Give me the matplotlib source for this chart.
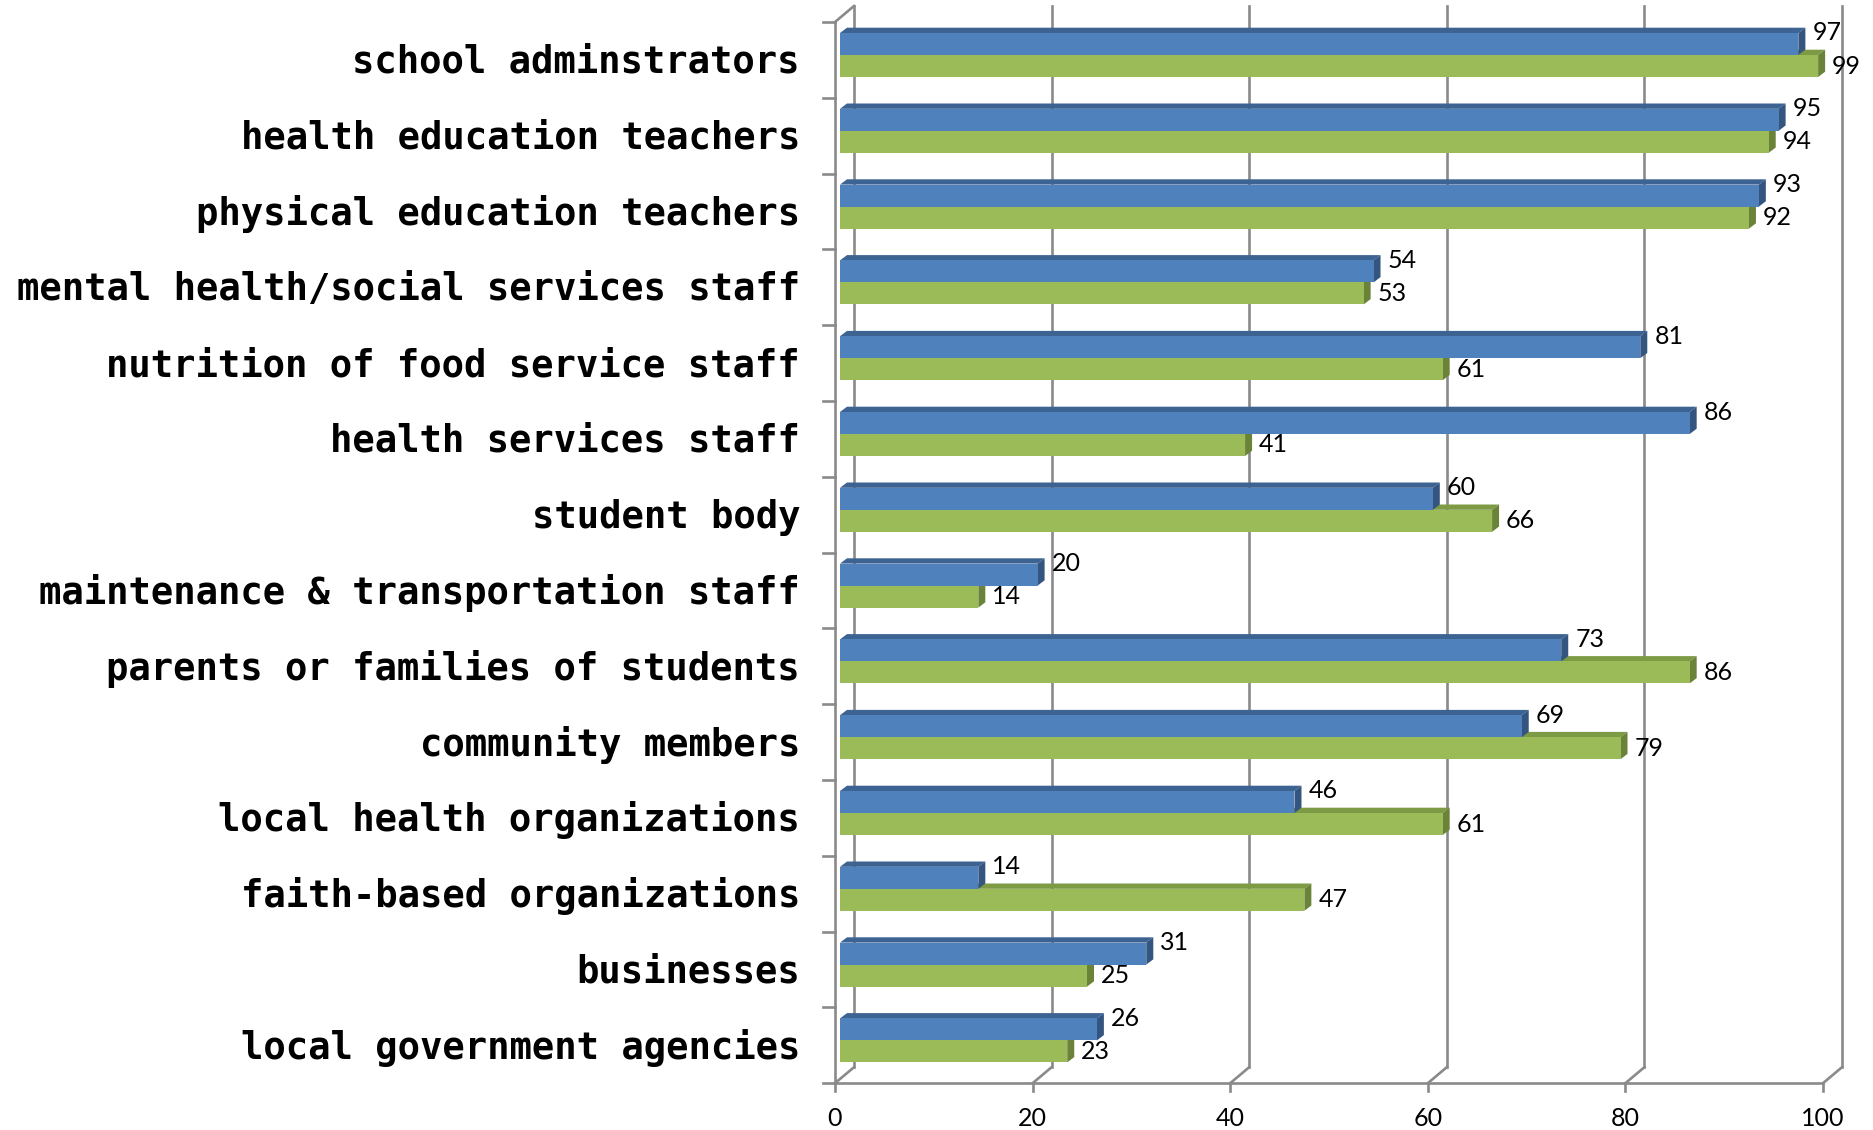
import matplotlib
matplotlib.use("Agg")
import matplotlib.pyplot as plt
from matplotlib.patches import Polygon

# %% data
categories = [
    "school adminstrators",
    "health education teachers",
    "physical education teachers",
    "mental health/social services staff",
    "nutrition of food service staff",
    "health services staff",
    "student body",
    "maintenance & transportation staff",
    "parents or families of students",
    "community members",
    "local health organizations",
    "faith-based organizations",
    "businesses",
    "local government agencies",
]
blue_vals = [97, 95, 93, 54, 81, 86, 60, 20, 73, 69, 46, 14, 31, 26]
green_vals = [99, 94, 92, 53, 61, 41, 66, 14, 86, 79, 61, 47, 25, 23]
xticks = [0, 20, 40, 60, 80, 100]

# %% geometry (pixels of the 1873x1130 canvas)
W, H = 1873, 1130
X0, PX = 835, 9.88     # value 0 on the front plane, px per unit
Y0, PY = 22, 75.8      # top of first category, px per category

wdx, wdy = 19 / PX, -16 / PY     # wall depth
shift = 5 / PX                   # bars sit a little behind the front plane
bdx, bdy = 7 / PX, -5.3 / PY     # bar depth

blue_c = ("#4f81bd", "#3d6393", "#33557f")
green_c = ("#9bbb59", "#7d9a45", "#6a8339")
grid_c = "#8a8a8a"
num_font = dict(family="Lato", fontsize=18, color="black")

fig = plt.figure(figsize=(W / 100, H / 100), dpi=100)
ax = fig.add_axes([0, 0, 1, 1])
ax.set_xlim(-X0 / PX, (W - X0) / PX)
ax.set_ylim((H - Y0) / PY, -Y0 / PY)
ax.axis("off")

n = len(categories)
lw = 1.9

# walls, gridlines and ticks
for k in xticks:
    ax.plot([k + wdx, k + wdx], [wdy, n + wdy], color=grid_c, lw=lw, zorder=1)
    ax.plot([k, k + wdx], [n, n + wdy], color=grid_c, lw=lw, zorder=1)
    ax.plot([k, k], [n, n + 8 / PY], color=grid_c, lw=lw, zorder=1)
    ax.text(k, (1118 - Y0) / PY, str(k), ha="center", va="center", **num_font)
ax.plot([0, 100], [n, n], color=grid_c, lw=lw, zorder=1)
ax.plot([0, 0], [0, n], color=grid_c, lw=lw, zorder=1)
ax.plot([0, wdx], [0, wdy], color=grid_c, lw=lw, zorder=1)
for k in range(n + 1):
    ax.plot([-12 / PX, 0], [k, k], color=grid_c, lw=lw, zorder=1)


def bar3d(v, y_top, y_bot, colors):
    face, top, side = colors
    x0, x1 = shift, shift + v
    ax.add_patch(Polygon([(x0, y_top), (x0 + bdx, y_top + bdy),
                          (x1 + bdx, y_top + bdy), (x1, y_top)],
                         closed=True, fc=top, ec="none", zorder=3))
    ax.add_patch(Polygon([(x1, y_top), (x1 + bdx, y_top + bdy),
                          (x1 + bdx, y_bot + bdy), (x1, y_bot)],
                         closed=True, fc=side, ec="none", zorder=3))
    ax.add_patch(Polygon([(x0, y_top), (x1, y_top), (x1, y_bot), (x0, y_bot)],
                         closed=True, fc=face, ec="none", zorder=3))


for i, (name, b, g) in enumerate(zip(categories, blue_vals, green_vals)):
    b_top, b_bot = i + 11 / PY, i + 33 / PY
    g_top, g_bot = i + 33 / PY, i + 55 / PY
    bar3d(g, g_top, g_bot, green_c)
    bar3d(b, b_top, b_bot, blue_c)
    ax.text(shift + b + 14 / PX, (b_top + b_bot) / 2 - 11 / PY, str(b),
            ha="left", va="center", zorder=4, **num_font)
    ax.text(shift + g + 14 / PX, (g_top + g_bot) / 2, str(g),
            ha="left", va="center", zorder=4, **num_font)
    ax.text((800 - X0) / PX, i + 0.5 + 2.5 / PY, name, ha="right", va="center",
            family="DejaVu Sans Mono", fontweight="bold", fontsize=26.8)

fig.savefig("out.png", dpi=100)
